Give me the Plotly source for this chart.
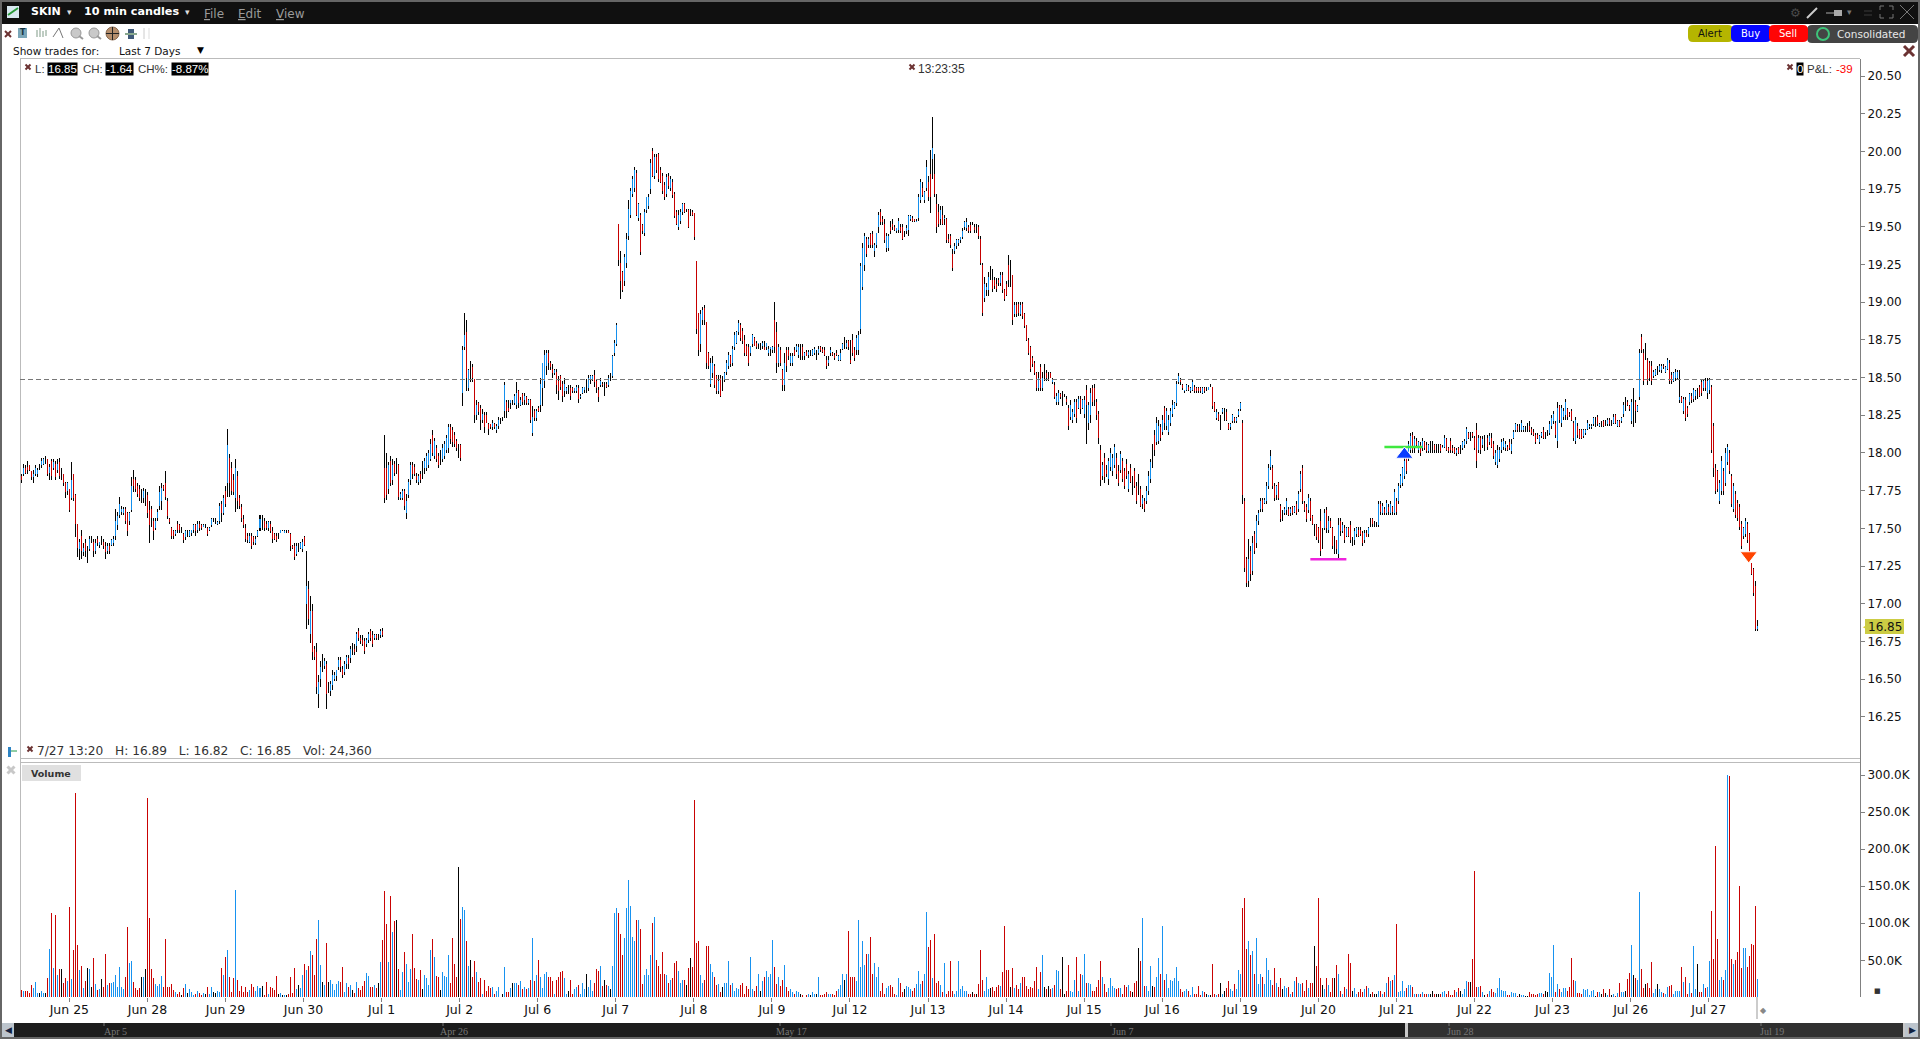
import plotly.graph_objs as go
from plotly.subplots import make_subplots

W, H = 1920, 1039

# prices are in cents, volume in thousands, one group per session
jun24_hi = [1786,1793,1792,1795,1792,1788,1789,1792,1790,1793,1797,1797,1798,1796,1793,1796,1796,1795,1796,1797,1790,1786,1781,1781,1776]
jun24_lo = [1780,1785,1786,1786,1788,1782,1780,1785,1784,1789,1790,1792,1793,1785,1782,1782,1789,1782,1787,1783,1782,1778,1770,1772,1761]
jun24_op = [1785,1786,1790,1791,1792,1788,1784,1786,1786,1791,1792,1793,1795,1796,1787,1795,1790,1793,1789,1794,1787,1786,1780,1775,1776]
jun24_cl = [1782,1790,1787,1789,1789,1784,1786,1790,1789,1791,1795,1796,1795,1786,1791,1785,1794,1784,1793,1785,1787,1780,1774,1780,1762]
jun24_vol = [10,8,9,9,6,17,13,21,6,6,9,6,6,26,65,114,40,111,30,38,38,19,26,22,122]

jun25_hi = [1794,1786,1773,1753,1743,1749,1740,1743,1738,1745,1745,1743,1743,
            1745,1741,1745,1743,1741,1740,1740,1743,1745,1763,1761,1771,1765,
            1764,1764,1761,1761,1784,1789,1784,1780,1779,1776,1777,1776,1774]
jun25_lo = [1769,1768,1744,1731,1729,1730,1732,1731,1727,1735,1740,1731,1733,
            1738,1737,1739,1736,1730,1733,1733,1738,1738,1742,1749,1757,1759,
            1759,1753,1745,1752,1761,1774,1774,1771,1768,1767,1767,1765,1757]
jun25_op = [1770,1786,1772,1753,1736,1745,1734,1740,1733,1736,1742,1741,1735,
            1743,1739,1741,1741,1738,1735,1738,1739,1740,1745,1752,1759,1761,
            1760,1763,1760,1755,1762,1783,1782,1778,1776,1772,1770,1770,1772]
jun25_cl = [1782,1770,1753,1737,1741,1735,1737,1735,1733,1743,1742,1735,1740,
            1740,1741,1741,1738,1734,1738,1735,1742,1743,1755,1758,1766,1763,
            1763,1755,1748,1760,1778,1778,1776,1773,1770,1772,1775,1770,1760]
jun25_vol = [25,64,276,71,37,42,13,22,40,38,14,53,18,
             10,11,25,14,59,17,19,19,21,30,14,41,14,
             11,27,95,46,49,21,13,10,13,27,27,38,269]

jun28_hi = [1768,1765,1757,1757,1763,1778,1780,1779,1788,1770,1757,1751,1749,
            1749,1755,1753,1751,1747,1749,1749,1749,1749,1753,1753,1755,1755,
            1753,1753,1753,1751,1751,1757,1757,1757,1755,1767,1768,1772,1778]
jun28_lo = [1740,1751,1742,1749,1755,1762,1762,1775,1769,1756,1753,1743,1743,
            1745,1747,1747,1747,1740,1742,1744,1744,1745,1747,1745,1747,1748,
            1749,1751,1750,1745,1748,1751,1754,1753,1752,1753,1754,1759,1764]
jun28_op = [1762,1763,1755,1750,1757,1765,1768,1778,1780,1768,1756,1750,1748,
            1746,1753,1752,1749,1746,1744,1747,1745,1747,1749,1752,1749,1753,
            1752,1751,1752,1750,1749,1752,1755,1755,1753,1755,1766,1760,1775]
jun28_cl = [1752,1757,1748,1755,1761,1774,1777,1776,1771,1758,1754,1745,1745,
            1748,1749,1749,1749,1742,1748,1747,1748,1749,1752,1748,1753,1750,
            1750,1752,1752,1746,1750,1756,1755,1755,1754,1765,1760,1770,1766]
jun28_vol = [107,38,26,18,15,18,29,14,79,14,14,18,10,
             7,5,7,3,13,18,6,11,7,3,5,9,6,
             3,6,5,14,5,14,7,6,9,7,40,30,55]

jun29_hi = [1816,1799,1794,1786,1796,1788,1772,1766,1759,1753,1747,1747,1747,
            1745,1745,1749,1759,1759,1757,1755,1755,1755,1751,1747,1747,1747,
            1749,1749,1749,1749,1749,1747,1739,1740,1740,1740,1741,1743,1745]
jun29_lo = [1771,1771,1772,1772,1761,1763,1763,1754,1750,1741,1740,1740,1736,
            1739,1739,1744,1748,1749,1748,1749,1748,1747,1740,1742,1741,1743,
            1747,1748,1747,1747,1747,1735,1736,1729,1732,1734,1736,1734,1738]
jun29_op = [1780,1797,1790,1782,1770,1785,1770,1764,1756,1750,1745,1741,1745,
            1744,1740,1745,1750,1755,1755,1753,1750,1753,1748,1746,1745,1744,
            1747,1748,1747,1748,1748,1746,1738,1738,1733,1737,1737,1736,1744]
jun29_cl = [1805,1780,1775,1774,1790,1768,1765,1757,1752,1743,1742,1745,1738,
            1741,1743,1748,1756,1755,1750,1750,1754,1748,1743,1743,1742,1744,
            1749,1748,1748,1748,1747,1738,1737,1731,1738,1737,1740,1741,1739]
jun29_vol = [64,27,7,26,145,23,9,15,7,14,7,10,18,
             14,9,15,13,15,3,21,5,14,13,10,29,5,
             6,3,3,3,5,27,6,40,11,17,13,30,45]

jun30_hi = [1735,1715,1705,1700,1672,1674,1653,1662,1667,1664,1662,1648,1649,
            1656,1655,1656,1665,1665,1659,1662,1666,1666,1672,1674,1673,1681,
            1684,1679,1679,1677,1677,1681,1683,1682,1680,1680,1680,1683,1684]
jun30_lo = [1683,1686,1674,1663,1663,1640,1631,1645,1655,1657,1630,1641,1639,
            1643,1649,1649,1656,1655,1651,1653,1657,1657,1661,1666,1666,1668,
            1675,1673,1672,1667,1671,1674,1675,1671,1676,1676,1676,1677,1678]
jun30_op = [1700,1710,1680,1695,1670,1668,1640,1650,1660,1659,1660,1645,1642,
            1646,1650,1652,1658,1663,1657,1655,1660,1664,1664,1670,1670,1672,
            1682,1677,1676,1675,1673,1676,1682,1679,1677,1679,1678,1679,1682]
jun30_cl = [1712,1690,1695,1668,1665,1645,1648,1658,1660,1662,1640,1645,1647,
            1653,1653,1656,1663,1658,1653,1660,1665,1660,1670,1670,1668,1680,
            1677,1675,1673,1669,1676,1680,1677,1673,1679,1677,1678,1682,1679]
jun30_vol = [37,42,63,57,30,79,105,44,21,17,73,21,23,
             18,10,18,22,21,41,7,19,14,17,10,6,21,
             13,10,15,22,33,29,14,14,17,13,19,48,77]

jul1_hi = [1812,1800,1794,1798,1796,1795,1797,1793,1774,1776,1776,1773,1783,
           1794,1794,1793,1787,1786,1788,1795,1797,1800,1802,1809,1815,1810,
           1805,1800,1802,1806,1808,1812,1819,1819,1817,1814,1809,1806,1806]
jul1_lo = [1767,1769,1773,1778,1779,1785,1786,1769,1769,1769,1762,1756,1770,
           1779,1783,1785,1780,1779,1780,1783,1786,1788,1790,1795,1798,1796,
           1794,1790,1792,1794,1796,1800,1800,1806,1804,1804,1801,1797,1795]
jul1_op = [1790,1790,1776,1795,1782,1793,1790,1792,1770,1770,1775,1760,1772,
           1782,1792,1791,1785,1781,1786,1785,1790,1790,1792,1796,1812,1798,
           1803,1798,1797,1796,1798,1802,1803,1817,1815,1812,1808,1802,1805]
jul1_cl = [1770,1772,1792,1780,1792,1787,1790,1771,1773,1775,1765,1768,1781,
           1792,1786,1786,1782,1785,1782,1785,1795,1798,1800,1806,1800,1808,
           1796,1792,1797,1803,1806,1810,1817,1809,1807,1806,1803,1802,1797]
jul1_vol = [144,99,48,137,88,103,105,38,10,34,61,45,21,
            38,86,40,25,23,37,11,30,26,17,64,79,55,
            29,27,10,34,29,27,57,19,80,45,27,176,106]

jul2_hi = [1871,1893,1888,1856,1861,1859,1849,1835,1834,1832,1829,1827,1827,
           1820,1819,1822,1820,1819,1824,1823,1824,1847,1835,1835,1835,1835,
           1839,1847,1842,1837,1840,1840,1838,1836,1836,1831,1829,1829,1831]
jul2_lo = [1831,1868,1841,1841,1847,1847,1820,1822,1825,1815,1820,1813,1820,
           1812,1816,1815,1816,1813,1816,1819,1821,1823,1823,1827,1829,1832,
           1832,1829,1830,1831,1832,1832,1832,1832,1820,1811,1821,1821,1827]
jul2_op = [1840,1870,1880,1843,1855,1857,1849,1825,1833,1830,1822,1825,1825,
           1819,1819,1817,1819,1815,1818,1821,1822,1828,1834,1830,1833,1833,
           1833,1832,1841,1832,1839,1835,1837,1833,1835,1813,1828,1823,1830]
jul2_cl = [1868,1878,1850,1855,1855,1850,1825,1832,1827,1822,1826,1817,1820,
           1816,1817,1820,1817,1818,1822,1821,1822,1845,1828,1828,1835,1833,
           1838,1840,1833,1835,1834,1838,1833,1835,1822,1824,1823,1828,1828]
jul2_vol = [122,118,76,42,50,27,49,34,21,26,5,24,9,
            15,12,14,5,9,14,1,4,41,7,7,12,20,
            19,20,16,22,11,14,11,12,23,80,22,30,50]

jul6_hi = [1850,1850,1868,1868,1868,1861,1859,1856,1856,1851,1852,1848,1850,
           1844,1845,1845,1844,1843,1845,1845,1839,1844,1844,1849,1852,1852,
           1852,1855,1849,1844,1850,1847,1847,1847,1852,1853,1865,1875,1886]
jul6_lo = [1827,1831,1843,1852,1855,1855,1850,1852,1839,1835,1842,1834,1837,
           1839,1839,1835,1840,1840,1840,1833,1836,1839,1840,1840,1841,1846,
           1848,1844,1840,1834,1844,1844,1838,1843,1844,1848,1850,1864,1871]
jul6_op = [1832,1843,1848,1858,1866,1860,1856,1853,1854,1848,1851,1846,1841,
           1841,1842,1843,1843,1841,1841,1843,1837,1840,1842,1844,1843,1849,
           1849,1852,1848,1842,1845,1846,1843,1846,1845,1850,1851,1866,1872]
jul6_cl = [1846,1860,1865,1866,1860,1857,1853,1855,1845,1841,1844,1838,1846,
           1843,1842,1838,1841,1843,1844,1836,1838,1843,1844,1844,1850,1851,
           1851,1847,1843,1837,1848,1845,1843,1844,1850,1850,1864,1873,1885]
jul6_vol = [27,12,31,34,27,28,22,4,24,27,34,36,26,
            4,9,23,5,11,14,16,5,19,11,31,14,24,
            8,19,38,35,42,15,24,16,15,11,42,114,120]

jul7_hi = [1952,1934,1921,1932,1946,1968,1976,1984,1990,1988,1966,1959,1952,
           1962,1970,1972,1995,2002,1998,1998,1999,1990,1986,1980,1985,1986,
           1984,1982,1973,1961,1961,1962,1966,1966,1962,1962,1962,1961,1959]
jul7_lo = [1924,1902,1907,1911,1923,1941,1956,1970,1973,1957,1954,1931,1945,
           1944,1959,1962,1972,1983,1982,1986,1980,1979,1972,1968,1970,1975,
           1974,1969,1956,1951,1948,1952,1958,1959,1960,1949,1957,1957,1941]
jul7_op = [1952,1926,1920,1914,1926,1944,1958,1972,1976,1986,1956,1958,1951,
           1946,1961,1964,1975,2000,1984,1996,1998,1988,1984,1978,1972,1984,
           1976,1980,1972,1960,1950,1954,1960,1965,1961,1961,1960,1960,1959]
jul7_cl = [1928,1914,1908,1930,1942,1962,1974,1982,1988,1958,1965,1933,1947,
           1960,1970,1970,1992,1984,1996,1988,1982,1980,1974,1970,1983,1977,
           1982,1971,1957,1952,1958,1960,1965,1960,1961,1950,1960,1958,1943]
jul7_vol = [114,86,57,80,120,158,123,82,76,105,104,92,18,
            30,38,30,57,101,108,50,42,31,61,32,30,20,
            23,26,46,49,36,19,23,24,16,39,53,41,267]

jul8_hi = [1927,1893,1895,1897,1898,1887,1867,1863,1864,1859,1852,1852,1852,
           1851,1854,1862,1867,1865,1871,1880,1881,1888,1886,1883,1878,1872,
           1872,1871,1879,1877,1874,1873,1873,1874,1874,1871,1871,1870,1871]
jul8_lo = [1879,1864,1867,1885,1885,1856,1856,1844,1850,1843,1839,1839,1837,
           1841,1847,1852,1856,1857,1858,1868,1872,1878,1874,1872,1864,1864,
           1858,1864,1870,1871,1869,1869,1868,1869,1868,1868,1864,1864,1866]
jul8_op = [1927,1893,1872,1888,1896,1887,1866,1846,1853,1858,1851,1841,1850,
           1848,1849,1854,1858,1864,1860,1870,1873,1880,1885,1881,1875,1871,
           1870,1866,1872,1876,1873,1872,1869,1871,1870,1870,1866,1869,1868]
jul8_cl = [1882,1868,1892,1895,1888,1860,1858,1860,1860,1845,1841,1848,1838,
           1848,1853,1860,1865,1859,1869,1878,1880,1886,1876,1874,1866,1865,
           1860,1871,1878,1871,1870,1873,1869,1873,1868,1873,1869,1870,1870]
jul8_vol = [74,76,30,20,24,70,70,45,34,28,16,18,7,
            14,20,20,49,16,20,9,12,11,16,19,4,15,
            11,54,11,9,15,31,8,22,27,35,28,31,77]

jul9_hi = [1900,1887,1872,1870,1856,1866,1870,1870,1866,1866,1870,1872,1872,
           1872,1872,1867,1868,1868,1868,1869,1870,1868,1871,1871,1870,1870,
           1864,1864,1870,1867,1866,1868,1865,1869,1873,1877,1875,1875,1875]
jul9_lo = [1866,1853,1857,1858,1841,1841,1854,1862,1858,1858,1864,1867,1863,
           1862,1862,1862,1864,1863,1864,1864,1865,1862,1865,1867,1866,1864,
           1856,1858,1864,1864,1862,1864,1861,1861,1868,1869,1869,1868,1859]
jul9_op = [1888,1880,1860,1868,1855,1845,1868,1868,1860,1860,1868,1868,1865,
           1866,1870,1864,1867,1865,1866,1865,1866,1865,1866,1870,1869,1868,
           1862,1860,1866,1866,1865,1866,1862,1862,1869,1871,1870,1874,1862]
jul9_cl = [1870,1860,1870,1860,1845,1860,1858,1864,1864,1864,1865,1871,1870,
           1866,1864,1866,1864,1867,1866,1868,1869,1865,1869,1868,1867,1865,
           1858,1862,1868,1865,1863,1865,1864,1866,1872,1871,1873,1870,1860]
jul9_vol = [41,18,27,15,23,43,14,9,11,7,4,8,7,
            4,3,1,3,4,3,7,5,4,27,3,3,4,
            7,5,4,4,3,8,11,16,32,23,31,90,27]

jul12_hi = [1879,1870,1878,1881,1926,1939,1946,1943,1943,1946,1947,1939,1946,
            1960,1962,1957,1955,1946,1945,1954,1955,1951,1949,1956,1952,1952,
            1947,1951,1958,1958,1957,1955,1955,1972,1982,1980,1974,1994,1984]
jul12_lo = [1864,1861,1865,1865,1879,1908,1921,1930,1936,1936,1936,1930,1936,
            1946,1951,1951,1939,1933,1934,1945,1948,1947,1946,1946,1946,1941,
            1943,1945,1944,1954,1953,1953,1953,1954,1966,1970,1966,1974,1967]
jul12_op = [1875,1868,1868,1868,1882,1910,1925,1942,1938,1945,1945,1934,1938,
            1950,1960,1955,1952,1936,1936,1950,1952,1950,1947,1948,1950,1950,
            1945,1947,1948,1955,1956,1955,1953,1956,1968,1976,1968,1976,1980]
jul12_cl = [1866,1863,1876,1878,1924,1936,1944,1932,1942,1938,1938,1938,1946,
            1958,1953,1953,1941,1944,1944,1947,1950,1948,1949,1954,1947,1942,
            1945,1949,1957,1957,1954,1954,1954,1970,1980,1971,1973,1990,1970]
jul12_vol = [27,28,22,104,41,76,43,58,58,82,31,46,27,
             41,8,20,5,12,15,16,14,5,3,26,20,7,
             11,15,14,11,8,12,18,36,18,22,32,115,68]

jul13_hi = [2001,2023,1998,1972,1965,1964,1964,1958,1956,1945,1945,1935,1939,
            1942,1942,1943,1949,1954,1956,1951,1953,1953,1952,1952,1951,1944,
            1926,1917,1913,1920,1924,1922,1917,1916,1916,1920,1920,1909,1914]
jul13_lo = [1959,1982,1970,1946,1950,1951,1951,1951,1939,1939,1936,1921,1932,
            1935,1937,1939,1942,1948,1947,1946,1946,1951,1946,1946,1942,1925,
            1891,1900,1904,1904,1915,1907,1909,1907,1911,1911,1906,1901,1904]
jul13_op = [1985,1995,1985,1965,1960,1955,1958,1955,1955,1942,1944,1932,1934,
            1937,1939,1941,1943,1950,1949,1950,1951,1952,1950,1948,1950,1942,
            1925,1903,1908,1908,1921,1915,1915,1912,1915,1913,1918,1908,1912]
jul13_cl = [1970,2002,1972,1950,1952,1961,1952,1956,1941,1940,1938,1923,1937,
            1941,1941,1943,1947,1953,1953,1947,1947,1952,1948,1948,1944,1926,
            1893,1912,1910,1917,1921,1909,1911,1909,1913,1918,1908,1902,1905]
jul13_vol = [77,26,86,20,22,16,7,46,4,9,49,8,5,
             8,49,11,15,9,9,4,5,7,4,5,18,64,
             23,9,27,11,12,14,9,14,16,15,34,96,37]

jul14_hi = [1931,1928,1918,1900,1900,1900,1900,1900,1893,1885,1876,1871,1864,
            1861,1854,1854,1859,1854,1859,1855,1854,1854,1850,1847,1840,1842,
            1840,1841,1839,1838,1832,1835,1829,1836,1836,1838,1838,1836,1838]
jul14_lo = [1910,1910,1885,1890,1890,1891,1891,1889,1883,1874,1865,1854,1857,
            1852,1841,1841,1841,1841,1848,1848,1848,1850,1846,1836,1832,1832,
            1836,1831,1837,1832,1815,1822,1820,1824,1820,1829,1826,1829,1823]
jul14_op = [1925,1920,1918,1892,1898,1899,1892,1899,1892,1885,1875,1870,1863,
            1860,1853,1843,1857,1843,1850,1853,1850,1853,1847,1845,1834,1834,
            1839,1836,1838,1836,1830,1824,1822,1826,1834,1830,1836,1830,1826]
jul14_cl = [1915,1920,1888,1898,1892,1893,1898,1891,1884,1875,1866,1856,1859,
            1853,1843,1850,1843,1850,1850,1850,1850,1850,1849,1837,1838,1840,
            1837,1836,1838,1834,1818,1832,1827,1834,1823,1836,1829,1835,1835]
jul14_vol = [37,14,39,12,16,11,20,28,28,15,11,14,12,
             22,41,11,34,57,14,11,15,11,12,16,37,35,
             11,55,5,9,43,8,7,23,55,9,32,30,59]

jul15_hi = [1845,1834,1843,1845,1846,1836,1828,1805,1794,1800,1792,1797,1803,
            1799,1806,1800,1792,1801,1797,1790,1796,1788,1793,1785,1790,1781,
            1786,1778,1772,1770,1778,1788,1796,1806,1815,1824,1822,1819,1825]
jul15_lo = [1806,1815,1820,1831,1831,1822,1806,1778,1782,1780,1784,1779,1788,
            1785,1790,1783,1778,1787,1781,1776,1783,1774,1780,1772,1777,1766,
            1772,1764,1763,1761,1766,1772,1780,1790,1798,1805,1806,1808,1812]
jul15_op = [1842,1820,1825,1843,1843,1834,1826,1802,1785,1797,1789,1783,1791,
            1788,1792,1797,1788,1789,1795,1788,1793,1776,1790,1782,1788,1778,
            1776,1776,1766,1768,1768,1775,1783,1796,1812,1807,1808,1817,1814]
jul15_cl = [1832,1832,1840,1834,1835,1825,1810,1782,1792,1784,1786,1795,1800,
            1797,1804,1786,1780,1799,1783,1778,1785,1786,1781,1782,1778,1768,
            1776,1765,1770,1763,1775,1785,1794,1796,1802,1820,1818,1810,1822]
jul15_vol = [20,19,18,8,9,14,23,49,28,18,7,12,26,
             15,12,11,12,12,4,16,14,16,9,7,19,22,
             66,49,107,15,15,9,42,15,14,27,53,31,96]

jul16_hi = [1831,1830,1825,1830,1835,1834,1848,1853,1850,1846,1842,1846,1845,
            1844,1849,1845,1844,1844,1844,1844,1844,1844,1844,1846,1844,1834,
            1829,1827,1825,1830,1830,1829,1820,1820,1826,1824,1824,1829,1834]
jul16_lo = [1815,1815,1812,1818,1824,1829,1831,1846,1845,1842,1840,1841,1841,
            1840,1841,1840,1840,1840,1840,1839,1840,1841,1842,1844,1829,1827,
            1822,1821,1815,1826,1821,1821,1815,1815,1820,1820,1820,1824,1828]
jul16_op = [1830,1818,1814,1820,1826,1830,1833,1847,1849,1845,1841,1842,1844,
            1841,1842,1844,1843,1843,1843,1840,1843,1843,1842,1845,1844,1833,
            1823,1826,1820,1827,1825,1827,1819,1817,1821,1823,1821,1825,1829]
jul16_cl = [1820,1828,1822,1828,1832,1833,1846,1851,1847,1843,1842,1845,1842,
            1843,1847,1841,1841,1841,1841,1843,1841,1843,1844,1845,1831,1828,
            1827,1822,1820,1829,1825,1822,1816,1819,1825,1821,1823,1828,1833]
jul16_vol = [23,31,12,23,22,26,41,22,11,7,9,11,9,
             3,14,4,5,15,3,8,7,5,3,3,45,5,
             3,4,19,5,8,12,22,11,9,18,11,37,32]

jul19_hi = [1822,1770,1731,1743,1738,1745,1748,1759,1762,1770,1770,1770,1781,
            1793,1802,1792,1780,1779,1781,1766,1762,1764,1770,1764,1764,1765,
            1765,1768,1775,1788,1792,1768,1766,1773,1770,1759,1753,1753,1751]
jul19_lo = [1766,1721,1711,1711,1715,1719,1733,1737,1752,1761,1761,1766,1766,
            1776,1789,1776,1768,1769,1769,1754,1755,1759,1759,1758,1758,1759,
            1760,1759,1761,1774,1766,1761,1754,1760,1755,1752,1745,1742,1740]
jul19_op = [1820,1768,1730,1715,1735,1722,1746,1740,1755,1763,1769,1767,1768,
            1778,1791,1790,1778,1772,1780,1765,1758,1760,1762,1763,1760,1764,
            1761,1766,1763,1776,1790,1767,1764,1762,1768,1758,1750,1752,1750]
jul19_cl = [1772,1724,1714,1730,1720,1740,1735,1755,1760,1768,1763,1769,1778,
            1790,1798,1778,1770,1778,1770,1756,1758,1763,1768,1759,1763,1760,
            1764,1760,1773,1786,1768,1762,1756,1770,1757,1753,1750,1744,1742]
jul19_vol = [120,134,65,76,57,62,32,80,18,31,27,18,53,
             37,23,16,39,19,14,26,11,15,12,14,5,7,
             22,28,20,18,19,9,23,12,20,20,69,42,134]

jul20_hi = [1763,1750,1763,1764,1758,1757,1751,1745,1742,1757,1757,1754,1752,
            1751,1751,1755,1744,1750,1751,1751,1751,1748,1749,1749,1751,1757,
            1757,1755,1754,1768,1768,1767,1764,1769,1766,1768,1765,1776,1770]
jul20_lo = [1732,1736,1749,1747,1747,1750,1736,1733,1733,1730,1745,1747,1740,
            1744,1744,1740,1738,1739,1744,1744,1745,1738,1740,1744,1744,1751,
            1751,1751,1751,1751,1759,1759,1759,1759,1759,1759,1759,1759,1759]
jul20_op = [1755,1742,1750,1762,1749,1755,1750,1740,1742,1733,1755,1748,1750,
            1745,1750,1752,1741,1742,1746,1749,1749,1747,1742,1747,1746,1754,
            1756,1753,1753,1752,1766,1760,1763,1760,1764,1760,1764,1760,1768]
jul20_cl = [1735,1742,1760,1750,1755,1751,1738,1740,1736,1752,1748,1752,1742,
            1750,1745,1742,1741,1748,1750,1745,1746,1740,1747,1744,1750,1754,
            1753,1753,1753,1766,1761,1765,1760,1767,1761,1766,1761,1774,1761]
jul20_vol = [26,16,11,26,16,7,26,26,43,32,8,5,14,
             11,59,47,8,12,5,7,11,7,11,15,12,4,
             7,4,5,9,9,5,7,20,27,22,24,30,99]

jul21_hi = [1780,1786,1791,1797,1799,1808,1813,1814,1811,1810,1808,1807,1810,
            1808,1807,1806,1808,1808,1806,1806,1806,1806,1805,1812,1810,1804,
            1810,1805,1804,1803,1804,1805,1808,1809,1817,1814,1814,1814,1811]
jul21_lo = [1766,1777,1778,1783,1786,1795,1800,1800,1800,1804,1800,1798,1801,
            1802,1800,1800,1800,1800,1800,1800,1800,1800,1803,1803,1801,1800,
            1800,1800,1799,1798,1799,1799,1802,1803,1806,1809,1808,1810,1802]
jul21_op = [1768,1779,1780,1785,1797,1797,1802,1812,1803,1808,1802,1805,1803,
            1807,1805,1801,1804,1804,1805,1803,1803,1805,1803,1804,1809,1803,
            1808,1803,1803,1800,1803,1802,1803,1805,1808,1813,1811,1813,1810]
jul21_cl = [1778,1785,1790,1795,1788,1806,1811,1802,1809,1805,1807,1800,1808,
            1803,1801,1805,1804,1804,1802,1803,1803,1801,1804,1810,1802,1801,
            1802,1801,1800,1802,1800,1802,1807,1808,1816,1810,1811,1811,1803]
jul21_vol = [7,8,22,9,12,16,16,14,4,4,4,5,7,
             4,4,4,4,8,4,4,5,4,7,8,5,9,
             3,3,10,7,13,8,5,11,22,21,21,52,171]

jul22_hi = [1820,1812,1811,1811,1812,1812,1813,1813,1808,1802,1805,1804,1809,
            1810,1808,1805,1809,1809,1815,1820,1819,1819,1822,1818,1818,1820,
            1821,1817,1816,1813,1813,1812,1814,1817,1814,1815,1821,1825,1828]
jul22_lo = [1790,1800,1799,1803,1801,1802,1805,1803,1796,1792,1790,1794,1800,
            1802,1801,1801,1802,1799,1809,1814,1814,1814,1814,1814,1814,1814,
            1814,1812,1811,1806,1809,1806,1810,1809,1809,1811,1812,1816,1819]
jul22_op = [1815,1802,1810,1805,1805,1810,1807,1810,1806,1794,1792,1796,1802,
            1804,1803,1804,1807,1801,1810,1815,1818,1816,1815,1815,1816,1816,
            1818,1816,1814,1812,1812,1807,1811,1815,1812,1812,1813,1818,1821]
jul22_cl = [1795,1810,1802,1809,1805,1804,1811,1804,1798,1800,1802,1802,1807,
            1808,1806,1802,1803,1806,1814,1819,1815,1816,1820,1817,1816,1816,
            1815,1813,1812,1807,1810,1811,1813,1810,1812,1812,1819,1823,1826]
jul22_vol = [14,14,15,7,3,5,9,11,7,6,13,26,10,
             9,9,3,3,7,6,6,2,5,3,3,2,2,
             7,5,5,3,5,6,6,5,8,7,33,27,71]

jul23_hi = [1821,1834,1832,1832,1830,1836,1830,1827,1829,1821,1824,1820,1816,
            1816,1816,1816,1822,1819,1819,1824,1824,1825,1820,1821,1822,1822,
            1823,1823,1822,1826,1826,1822,1822,1824,1834,1837,1835,1832,1836]
jul23_lo = [1810,1803,1820,1817,1822,1822,1822,1824,1821,1808,1806,1810,1809,
            1809,1810,1812,1815,1816,1816,1818,1817,1818,1817,1817,1817,1818,
            1818,1818,1818,1819,1819,1817,1817,1820,1824,1828,1831,1828,1819]
jul23_op = [1820,1808,1831,1820,1824,1825,1829,1826,1828,1820,1808,1818,1815,
            1815,1811,1813,1816,1817,1817,1819,1820,1824,1818,1819,1821,1820,
            1819,1822,1820,1820,1825,1818,1821,1821,1826,1833,1834,1831,1821]
jul23_cl = [1812,1830,1822,1830,1828,1834,1824,1825,1822,1810,1822,1812,1810,
            1810,1815,1815,1820,1818,1818,1823,1820,1819,1819,1819,1818,1820,
            1822,1819,1820,1824,1820,1821,1818,1823,1832,1833,1832,1829,1834]
jul23_vol = [7,18,11,7,13,13,9,14,53,23,22,6,6,
             5,11,10,11,3,9,10,2,7,7,5,11,6,
             3,11,3,5,2,6,19,7,7,8,25,33,71]

jul26_hi = [1843,1835,1832,1869,1879,1869,1873,1863,1861,1861,1855,1856,1858,
            1859,1859,1859,1858,1863,1862,1854,1854,1856,1855,1855,1838,1837,
            1837,1831,1840,1840,1843,1842,1843,1845,1849,1849,1850,1850,1850]
jul26_lo = [1817,1820,1827,1835,1866,1845,1862,1845,1848,1845,1850,1851,1852,
            1854,1853,1856,1853,1855,1846,1846,1847,1848,1849,1833,1833,1826,
            1821,1824,1832,1833,1834,1835,1836,1837,1838,1841,1841,1836,1839]
jul26_op = [1830,1834,1828,1837,1877,1866,1868,1862,1860,1858,1851,1852,1855,
            1855,1855,1858,1854,1856,1860,1852,1848,1850,1850,1835,1837,1828,
            1835,1830,1834,1838,1836,1838,1840,1844,1847,1843,1848,1840,1842]
jul26_cl = [1830,1828,1831,1866,1868,1848,1868,1848,1850,1848,1854,1855,1855,
            1858,1858,1857,1857,1862,1848,1848,1853,1854,1854,1837,1834,1836,
            1823,1826,1839,1835,1842,1841,1840,1838,1840,1848,1843,1848,1849]
jul26_vol = [30,26,23,142,38,13,18,19,13,48,6,11,18,
             11,7,6,5,14,15,17,5,9,9,9,41,21,
             27,5,19,6,69,11,45,7,7,18,13,14,49]

jul27_hi = [1845,1820,1793,1789,1782,1798,1790,1803,1806,1802,1786,1780,1775,1769,1766,1755,1751,1757,1754,1747,1727,1724,1715,1689]
jul27_lo = [1800,1784,1773,1774,1766,1772,1772,1778,1792,1786,1764,1761,1757,1755,1749,1736,1743,1744,1740,1731,1719,1705,1682,1682]
jul27_op = [1844,1818,1790,1788,1768,1775,1788,1780,1794,1800,1785,1763,1773,1767,1764,1753,1745,1746,1753,1746,1727,1723,1712,1683]
jul27_cl = [1802,1790,1775,1776,1780,1795,1775,1800,1804,1788,1766,1778,1759,1757,1751,1738,1750,1755,1742,1732,1720,1707,1683,1685]
jul27_vol = [117,52,205,79,23,27,23,37,300,299,52,45,50,61,150,40,67,67,41,56,72,71,123,24.36]

day_labels = ["Jun 25","Jun 28","Jun 29","Jun 30","Jul 1","Jul 2","Jul 6","Jul 7","Jul 8","Jul 9","Jul 12",
              "Jul 13","Jul 14","Jul 15","Jul 16","Jul 19","Jul 20","Jul 21","Jul 22","Jul 23","Jul 26","Jul 27"]
price_ticks = [20.50,20.25,20.00,19.75,19.50,19.25,19.00,18.75,18.50,18.25,18.00,17.75,17.50,17.25,17.00,16.75,16.50,16.25]
volume_ticks = [50,100,150,200,250,300]
prev_close = 18.49
last_price = 16.85
buy_bar, buy_price = 691, 17.99
sell_bar, sell_price = 863, 17.32
green_bars, green_price = [681, 700], 18.04
magenta_bars, magenta_price = [644, 662], 17.295
scroller_labels = ["Apr 5", "Apr 26", "May 17", "Jun 7", "Jun 28", "Jul 19"]
scroller_px = [115, 454, 791, 1122, 1460, 1772]

days = ["jun24","jun25","jun28","jun29","jun30","jul1","jul2","jul6","jul7","jul8","jul9","jul12",
        "jul13","jul14","jul15","jul16","jul19","jul20","jul21","jul22","jul23","jul26","jul27"]


def join(kind):
    out = []
    for d in days:
        out += globals()[d + "_" + kind]
    return out


hi, lo, op, cl, vol = join("hi"), join("lo"), join("op"), join("cl"), join("vol")
if len({len(hi), len(lo), len(op), len(cl), len(vol)}) != 1:
    raise SystemExit(str([(d, [len(globals()[d + "_" + k]) for k in ("hi","lo","op","cl","vol")]) for d in days]))

x = list(range(len(hi)))
UP, DOWN, FLAT = "rgba(20,145,240,0.99)", "rgba(200,0,0,0.99)", "rgba(0,0,0,0.99)"
colors = [UP if c > o else DOWN if c < o else FLAT for o, c in zip(op, cl)]
tick_bars = [24 + 39 * k for k in range(len(day_labels))]


def X0(px):
    return px / W


def Y0(px):
    return 1 - px / H


fig = make_subplots(rows=2, cols=1, shared_xaxes=True)

# wick first, body on top
fig.add_trace(go.Bar(x=x, base=[l / 100 for l in lo], y=[(h - l) / 100 for h, l in zip(hi, lo)],
                     width=0.5, marker=dict(color=FLAT, line_width=0)), row=1, col=1)
fig.add_trace(go.Bar(x=x, base=[min(o, c) / 100 for o, c in zip(op, cl)],
                     y=[abs(o - c) / 100 for o, c in zip(op, cl)],
                     width=0.5, marker=dict(color=colors, line_width=0)), row=1, col=1)
fig.add_trace(go.Bar(x=x, y=vol, width=0.5, marker=dict(color=colors, line_width=0)), row=2, col=1)

for bars, price, color in [(green_bars, green_price, "#3fe83f"), (magenta_bars, magenta_price, "#ee22dd")]:
    fig.add_trace(go.Scatter(x=bars, y=[price, price], mode="lines", line=dict(color=color, width=2.5)), row=1, col=1)
fig.add_trace(go.Scatter(x=[buy_bar], y=[buy_price], mode="markers",
                         marker=dict(symbol="triangle-up", size=15, color="#0a3cff", line=dict(color="white", width=1))), row=1, col=1)
fig.add_trace(go.Scatter(x=[sell_bar], y=[sell_price], mode="markers",
                         marker=dict(symbol="triangle-down", size=15, color="#ff4400", line=dict(color="white", width=1))), row=1, col=1)

shapes = []
annotations = []


def rect(x0, y0, x1, y1, fill, line=None):
    shapes.append(dict(type="rect", xref="paper", yref="paper", x0=X0(x0), x1=X0(x1), y0=Y0(y0), y1=Y0(y1),
                       fillcolor=fill, line=dict(width=1 if line else 0, color=line or fill), layer="below"))


def seg(x0, y0, x1, y1, color, width=1, dash=None):
    shapes.append(dict(type="line", xref="paper", yref="paper", x0=X0(x0), x1=X0(x1), y0=Y0(y0), y1=Y0(y1),
                       line=dict(color=color, width=width, dash=dash)))


def label(px, py, text, size=11, color="#222", family="DejaVu Sans", anchor="left", bg=None):
    annotations.append(dict(xref="paper", yref="paper", x=X0(px), y=Y0(py), text=text, showarrow=False,
                            xanchor=anchor, yanchor="middle", borderpad=0, bgcolor=bg,
                            font=dict(size=size, color=color, family=family)))


def cross(px, py, r=3, color="#6b3232", width=2):
    seg(px - r, py - r, px + r, py + r, color, width)
    seg(px - r, py + r, px + r, py - r, color, width)


def pill(x0, y0, x1, y1, fill, r=5):
    xa, xb, xc, xd = X0(x0), X0(x0 + r), X0(x1 - r), X0(x1)
    ya, yb, yc, yd = Y0(y0), Y0(y0 + r), Y0(y1 - r), Y0(y1)
    path = (f"M{xb},{ya} L{xc},{ya} Q{xd},{ya} {xd},{yb} L{xd},{yc} Q{xd},{yd} {xc},{yd} "
            f"L{xb},{yd} Q{xa},{yd} {xa},{yc} L{xa},{yb} Q{xa},{ya} {xb},{ya} Z")
    shapes.append(dict(type="path", xref="paper", yref="paper", path=path, fillcolor=fill, line=dict(width=0)))


# window frame
rect(0, 0, 1920, 2, "#666666")
rect(0, 2, 1920, 24, "#101010")
rect(0, 0, 2, 1039, "#666666")
rect(1918, 0, 1920, 1039, "#666666")
rect(0, 1037, 1920, 1039, "#666666")

# title bar
rect(7, 6, 19, 18, "#d8e8f0")
seg(8, 15, 18, 8, "#2a9a3a", 2)
label(30, 12, "<b>SKIN</b>", 11, "#ffffff")
label(66, 12, "▾", 9, "#dddddd")
label(83, 12, "<b>10 min candles</b>", 11.2, "#ffffff")
label(184, 12, "▾", 9, "#dddddd")
label(203, 14, "<u>F</u>ile", 12, "#9a9a9a")
label(237, 14, "<u>E</u>dit", 12, "#9a9a9a")
label(275, 14, "<u>V</u>iew", 12, "#9a9a9a")
label(1795, 13, "⚙", 12, "#4a4a4a", anchor="center")
seg(1807, 18, 1817, 8, "#cccccc", 2)
seg(1826, 13, 1840, 13, "#aaaaaa", 1)
rect(1834, 10, 1842, 16, "#aaaaaa")
label(1849, 12, "▾", 9, "#777777", anchor="center")
seg(1864, 11, 1872, 11, "#3a3a3a", 1)
seg(1864, 15, 1872, 15, "#3a3a3a", 1)
for cx, cy, dx, dy in [(1880, 6, 1, 1), (1893, 6, -1, 1), (1880, 18, 1, -1), (1893, 18, -1, -1)]:
    seg(cx, cy, cx + 4 * dx, cy, "#777777")
    seg(cx, cy, cx, cy + 4 * dy, "#777777")
seg(1900, 5, 1914, 19, "#777777")
seg(1900, 19, 1914, 5, "#777777")

# tool row
cross(8, 34)
rect(18, 28, 27, 38, "#7aa6b8")
label(22.5, 33, "<b>T</b>", 8, "#16333f", anchor="center")
for px, py0, py1 in [(37, 30, 37), (40, 28, 37), (43, 31, 37), (46, 30, 36)]:
    seg(px, py0, px, py1, "#7f9a86", 1)
seg(53, 37, 59, 28, "#777777")
seg(59, 28, 63, 38, "#777777")
for px, glass in [(76, "#c9c9c9"), (94, "#c9c9c9")]:
    shapes.append(dict(type="circle", xref="paper", yref="paper", x0=X0(px - 5), x1=X0(px + 5), y0=Y0(28), y1=Y0(38),
                       fillcolor=glass, line=dict(color="#999999", width=1)))
    seg(px + 3, 36, px + 7, 39, "#999999", 2)
shapes.append(dict(type="circle", xref="paper", yref="paper", x0=X0(106), x1=X0(119), y0=Y0(27), y1=Y0(40),
                   fillcolor="#b58e6c", line=dict(color="#8a6a50", width=1)))
seg(106, 33.5, 119, 33.5, "#222222")
seg(112.5, 27, 112.5, 40, "#222222")
rect(128, 29, 134, 39, "#3f5a78")
seg(125, 34, 137, 34, "#89a88e", 2)
seg(144, 28, 144, 39, "#cccccc", 1)
seg(149, 28, 149, 39, "#dddddd", 1)

# order buttons
pill(1807, 25, 1918, 43, "#444444")
pill(1688, 25, 1733, 42, "#b5b500")
pill(1731, 25, 1771, 42, "#0505ff")
pill(1769, 25, 1808, 42, "#ff0505")
label(1709.5, 33.5, "Alert", 10, "#111111", anchor="center")
label(1750, 33.5, "Buy", 10, "#ffffff", anchor="center")
label(1788, 33.5, "Sell", 10, "#ffffff", anchor="center")
shapes.append(dict(type="circle", xref="paper", yref="paper", x0=X0(1817), x1=X0(1829), y0=Y0(28), y1=Y0(40),
                   line=dict(color="#3ec47a", width=2)))
label(1836, 33.5, "Consolidated", 10.5, "#e8e8e8")
cross(1909, 51, 5, "#6b3232", 3)

label(12, 51, "Show trades for:", 10.5, "#111111")
label(118, 51, "Last 7 Days", 10.5, "#111111")
label(200, 50, "▼", 9, "#000000", anchor="center")

# pane frames
rect(20, 58, 1860, 59, "#bbbbbb")
rect(20, 758, 1860, 759, "#bbbbbb")
rect(20, 762, 1860, 763, "#bbbbbb")
rect(20, 59, 21, 997, "#bbbbbb")
rect(1860, 59, 1861, 997, "#808080")
seg(20, 379.5, 1860, 379.5, "#777777", 1.2, "5px,3px")

# read-outs over the price pane
cross(28, 67, 2.5)
label(34, 68.5, "L:", 11.5, "#333333", "Liberation Sans")
label(47, 68.5, "16.85", 11.5, "#ffffff", "Liberation Sans", bg="#000000")
label(82, 68.5, "CH:", 11.5, "#333333", "Liberation Sans")
label(105, 68.5, "-1.64", 11.5, "#ffffff", "Liberation Sans", bg="#000000")
label(137, 68.5, "CH%:", 11.5, "#333333", "Liberation Sans")
label(171, 68.5, "-8.87%", 11.5, "#ffffff", "Liberation Sans", bg="#000000")
cross(912, 67, 2.5)
label(917, 68.5, "13:23:35", 12, "#333333", "Liberation Sans")
cross(1790, 67, 2.5)
label(1796, 68.5, "0", 11.5, "#ffffff", "Liberation Sans", bg="#000000")
label(1806, 68.5, "P&L:", 11.5, "#333333", "Liberation Sans")
label(1835, 68.5, "-39", 11.5, "#ff0000", "Liberation Sans")

# last price flag
rect(1865, 619, 1904, 634, "#cccc44")
label(1862, 626.5, "◀", 7, "#cccc44", anchor="left")
label(1867, 626.5, "16.85", 12, "#111111")

# status line and volume tag
rect(8, 747, 11, 757, "#2d84c4")
seg(11, 751, 17, 751, "#1f9a4a", 1)
cross(30, 749, 2.5)
label(36, 750.5, "7/27 13:20&nbsp;&nbsp; H: 16.89&nbsp;&nbsp; L: 16.82&nbsp;&nbsp; C: 16.85&nbsp;&nbsp; Vol: 24,360", 12.2, "#333333")
cross(11, 770, 3.5, "#c8c8c8", 3)
rect(22, 765, 81, 781, "#e0e0e0")
label(30, 773, "<b>Volume</b>", 9.5, "#333333")
label(1877, 991, "■", 7, "#333333", anchor="center")

# scroller under the chart
seg(1757, 997, 1757, 1019, "#999999", 1)
label(1763, 1010, "◆", 8, "#888888", anchor="center")
rect(14, 1023, 1405, 1037, "#1c1c1c")
rect(1408, 1023, 1903, 1037, "#303030")
rect(1405, 1023, 1408, 1037, "#c8c8c8")
rect(1903, 1023, 1905, 1037, "#c8c8c8")
rect(2, 1023, 14, 1037, "#bcc4cc")
rect(1905, 1023, 1918, 1037, "#bcc4cc")
label(8, 1030, "◀", 9, "#102040", anchor="center")
label(1912, 1030, "▶", 9, "#102040", anchor="center")
for px, text in zip(scroller_px, scroller_labels):
    label(px, 1031, text, 10, "#777777", "Liberation Serif", anchor="center")
    seg(px - 11, 1023, px - 11, 1026, "#777777")

axis_font = dict(size=12, color="#111111", family="DejaVu Sans")
fig.update_xaxes(range=[-0.4, 918.6], showgrid=False, zeroline=False, showline=False)
fig.update_xaxes(tickmode="array", tickvals=tick_bars, ticktext=day_labels, ticks="outside", ticklen=4, ticklabelstandoff=-3,
                 tickcolor="#808080", tickfont=dict(size=12.5, color="#111111", family="DejaVu Sans"), showticklabels=True, row=2, col=1)
fig.update_xaxes(showticklabels=False, ticks="", row=1, col=1)
fig.update_yaxes(side="right", showgrid=False, zeroline=False, ticks="outside", ticklen=4, tickcolor="#808080", tickfont=axis_font)
fig.update_yaxes(range=[15.977, 20.613], tickmode="array", tickvals=price_ticks, ticktext=[f"{p:.2f}" for p in price_ticks], row=1, col=1)
fig.update_yaxes(range=[0, 316.6], tickmode="array", tickvals=volume_ticks, ticktext=[f"{v:.1f}K" for v in volume_ticks], row=2, col=1)

fig.update_layout(
    width=W, height=H, margin=dict(l=0, r=0, t=0, b=0), showlegend=False, barmode="overlay", bargap=0,
    plot_bgcolor="white", paper_bgcolor="white", shapes=shapes, annotations=annotations,
    xaxis=dict(domain=[X0(20.5), X0(1860)]), xaxis2=dict(domain=[X0(20.5), X0(1860)]),
    yaxis=dict(domain=[Y0(758), Y0(59)]), yaxis2=dict(domain=[Y0(997.3), Y0(763)]),
)

fig.write_html("out.html", config={"displayModeBar": False},
               post_script="document.body.style.margin='0';document.body.style.overflow='hidden';"
                           "document.querySelectorAll('.bars path').forEach(function(p){p.style.shapeRendering='crispEdges';});")
